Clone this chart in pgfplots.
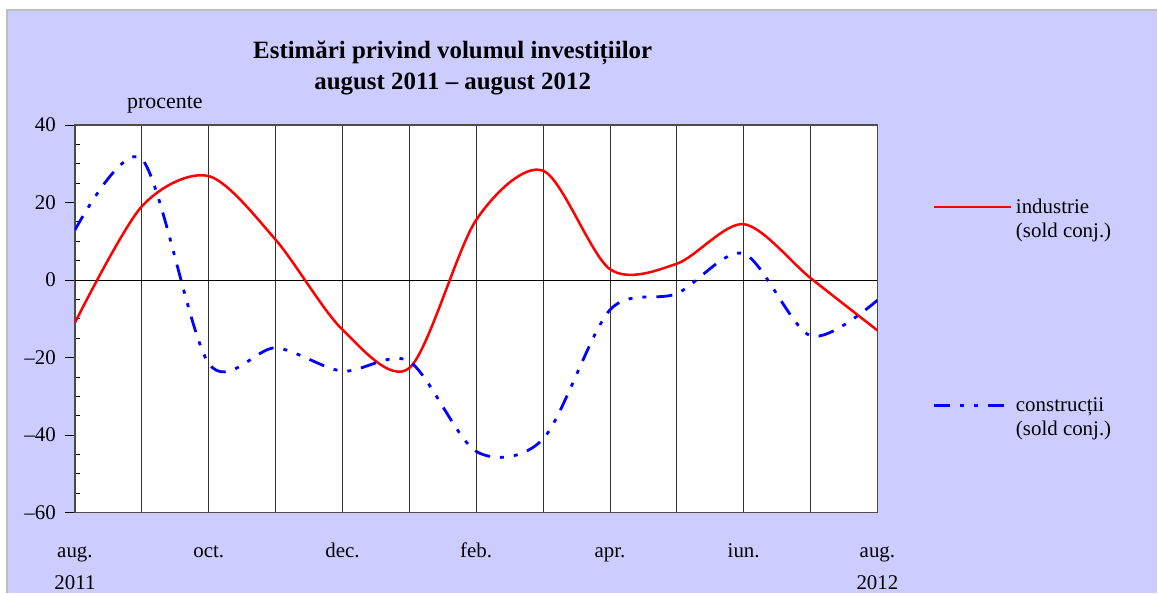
\documentclass[border=0pt]{standalone}
\usepackage{fontspec}
\setmainfont{Liberation Serif}
\usepackage{pgfplots}
\pgfplotsset{compat=1.18}
\definecolor{lav}{RGB}{204,204,255}
\definecolor{framegray}{RGB}{190,190,190}
\newcommand{\fs}{\fontsize{21}{24}\selectfont}
\begin{document}
\begin{tikzpicture}[x=1bp,y=1bp]
\fill[white] (0,0) rectangle (1158,593);
\fill[lav] (7,0) rectangle (1158,583);
\draw[framegray, line width=1.5bp] (7,0) -- (7,583) -- (1158,583);
\node[font=\bfseries\fontsize{25}{32}\selectfont, align=center] at (453,525) {Estimări privind volumul investițiilor\\august 2011 – august 2012};
\node[font=\fontsize{22}{25}\selectfont] at (165,488) {procente};
\begin{axis}[
  at={(75bp,80bp)}, anchor=south west,
  scale only axis, width=803bp, height=388bp,
  xmin=0, xmax=12, ymin=-60, ymax=40,
  axis background/.style={fill=white},
  axis line style={draw=black!70, line width=1.2bp},
  xtick={0,2,...,12},
  minor xtick={1,3,...,11},
  xticklabels={{\strut aug.\\[8bp]2011},{\strut oct.},{\strut dec.},{\strut feb.},{\strut apr.},{\strut iun.},{\strut aug.\\[8bp]2012}},
  xticklabel style={align=center, anchor=north, inner sep=0pt, yshift=-18bp},
  xmajorgrids, xminorgrids,
  grid style={black!80, line width=0.8bp},
  xtick style={draw=none},
  xtick pos=bottom, ytick pos=left,
  ytick={-60,-40,...,40},
  yticklabels={–60,–40,–20,0,20,40},
  minor ytick={-55,-50,-45,-35,-30,-25,-15,-10,-5,5,10,15,25,30,35},
  yticklabel style={anchor=east, inner sep=0pt, xshift=-9bp},
  tick align=outside,
  major tick length=10bp,
  minor tick length=5bp,
  ytick style={black, line width=0.8bp},
  minor tick style={xshift=5bp},
  tick label style={font=\fs},
  legend style={draw=none, fill=none, at={(axis description cs:1.068,0.809)}, anchor=north west, inner sep=0pt, column sep=4bp, row sep=159bp, font=\fs, cells={align=left}, nodes={inner sep=0pt}},
  legend cell align=left,
  legend image code/.code={\draw[#1] (0bp,12bp) -- (77bp,12bp);},
]
\addplot[black, line width=0.8bp, forget plot] coordinates {(0,0) (12,0)};
\addplot[red, line width=2.5bp, smooth] coordinates {
(0,-11) (1,19) (2,26.8) (3,10.4) (4,-12.8) (5,-22.7) (6,15.5) (7,28.2) (8,2.8) (9,4.2) (10,14.4) (11,0.5) (12,-13)};
\addlegendentry{industrie\\(sold conj.)}
\addplot[blue, line width=2.8bp, smooth, dash pattern=on 16bp off 10bp on 4bp off 10bp on 4bp off 10bp] coordinates {
(0,12.9) (1,31.2) (2,-21.5) (3,-17.5) (4,-23.5) (5,-21) (6,-44.2) (7,-41) (8,-7.7) (9,-3.5) (10,6.8) (11,-14.4) (12,-5.2)};
\addlegendentry{construcții\\(sold conj.)}
\end{axis}
\end{tikzpicture}
\end{document}
